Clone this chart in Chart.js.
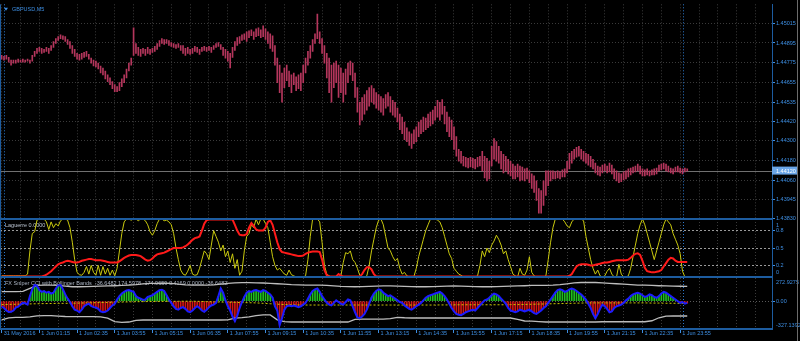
<!DOCTYPE html>
<html>
<head>
<meta charset="utf-8">
<script src="https://cdn.jsdelivr.net/npm/chart.js@4.4.0/dist/chart.umd.min.js"></script>
<style>
  html, body { margin: 0; padding: 0; background: #000; overflow: hidden; }
  #wrap { position: relative; width: 800px; height: 341px; }
  canvas { position: absolute; left: 0; }
  #rim { position: absolute; left: 797px; top: 0; width: 1px; height: 341px; background: #6c6c6c; }
</style>
</head>
<body>
<div id="wrap">
  <canvas id="price" width="800" height="225" style="top:0"></canvas>
  <canvas id="lag" width="800" height="64" style="top:216px"></canvas>
  <canvas id="cci" width="800" height="67" style="top:274px"></canvas>
  <div id="rim"></div>
</div>
<script>
// bar -1 is 31 May 23:55, bar 0 is 1 Jun 00:00 (M5 bars)
const firstBar = -1;
const daySplits = [0, 288];

const timeTickAt = [-1, 15, 31, 47, 63, 79, 95, 111, 127, 143, 159, 175, 191, 207, 223, 239, 255, 271, 287];
const timeTickText = ['31 May 2016', '1 Jun 01:15', '1 Jun 02:35', '1 Jun 03:55', '1 Jun 05:15', '1 Jun 06:35',
  '1 Jun 07:55', '1 Jun 09:15', '1 Jun 10:35', '1 Jun 11:55', '1 Jun 13:15', '1 Jun 14:35', '1 Jun 15:55',
  '1 Jun 17:15', '1 Jun 18:35', '1 Jun 19:55', '1 Jun 21:15', '1 Jun 22:35', '1 Jun 23:55'];

const priceTicks = [1.45015, 1.44895, 1.44775, 1.44655, 1.44535, 1.44420, 1.44300, 1.44180, 1.44060, 1.43945, 1.43830];
const lastPrice = 1.44120;

const high = [
  1.44820,1.44814,1.44820,1.44808,1.44791,1.44791,1.44791,1.44797,1.44791,1.44797,
  1.44791,1.44797,1.44791,1.44820,1.44844,1.44862,1.44868,1.44862,1.44856,1.44868,
  1.44862,1.44880,1.44904,1.44922,1.44934,1.44945,1.44939,1.44934,1.44916,1.44904,
  1.44880,1.44856,1.44832,1.44826,1.44832,1.44838,1.44844,1.44826,1.44803,1.44791,
  1.44785,1.44773,1.44755,1.44743,1.44725,1.44701,1.44683,1.44660,1.44642,1.44630,
  1.44654,1.44677,1.44701,1.44737,1.44773,1.44803,1.44987,1.44892,1.44868,1.44856,
  1.44862,1.44856,1.44868,1.44856,1.44862,1.44874,1.44892,1.44910,1.44922,1.44916,
  1.44916,1.44910,1.44898,1.44892,1.44886,1.44892,1.44880,1.44880,1.44862,1.44868,
  1.44856,1.44862,1.44874,1.44868,1.44856,1.44868,1.44874,1.44868,1.44874,1.44868,
  1.44880,1.44892,1.44898,1.44886,1.44868,1.44856,1.44844,1.44832,1.44868,1.44904,
  1.44928,1.44934,1.44945,1.44951,1.44963,1.44969,1.44975,1.44963,1.44981,1.44987,
  1.44975,1.44999,1.44981,1.44963,1.44951,1.44939,1.44880,1.44803,1.44761,1.44713,
  1.44743,1.44761,1.44725,1.44701,1.44713,1.44689,1.44701,1.44713,1.44761,1.44803,
  1.44844,1.44880,1.44916,1.44951,1.45070,1.44963,1.44922,1.44880,1.44832,1.44803,
  1.44761,1.44773,1.44785,1.44761,1.44743,1.44713,1.44737,1.44773,1.44785,1.44773,
  1.44713,1.44624,1.44535,1.44564,1.44582,1.44606,1.44624,1.44636,1.44618,1.44594,
  1.44582,1.44570,1.44558,1.44582,1.44594,1.44570,1.44546,1.44535,1.44499,1.44463,
  1.44445,1.44415,1.44380,1.44356,1.44344,1.44368,1.44386,1.44415,1.44427,1.44445,
  1.44439,1.44463,1.44475,1.44487,1.44511,1.44546,1.44535,1.44552,1.44511,1.44475,
  1.44445,1.44427,1.44386,1.44326,1.44249,1.44237,1.44207,1.44201,1.44195,1.44201,
  1.44195,1.44189,1.44201,1.44207,1.44237,1.44207,1.44195,1.44177,1.44267,1.44314,
  1.44296,1.44267,1.44237,1.44219,1.44207,1.44189,1.44177,1.44159,1.44148,1.44159,
  1.44148,1.44142,1.44130,1.44136,1.44118,1.44100,1.44088,1.44058,1.44011,1.43999,
  1.44058,1.44118,1.44118,1.44118,1.44118,1.44112,1.44118,1.44112,1.44124,1.44130,
  1.44177,1.44225,1.44237,1.44249,1.44261,1.44267,1.44249,1.44237,1.44225,1.44219,
  1.44207,1.44189,1.44165,1.44148,1.44142,1.44153,1.44159,1.44148,1.44165,1.44153,
  1.44130,1.44118,1.44106,1.44100,1.44112,1.44118,1.44130,1.44136,1.44142,1.44148,
  1.44159,1.44148,1.44130,1.44124,1.44130,1.44118,1.44124,1.44130,1.44136,1.44153,
  1.44159,1.44165,1.44159,1.44148,1.44136,1.44130,1.44142,1.44148,1.44136,1.44130,
  1.44136,1.44130
];
const low = [
  1.44797,1.44791,1.44797,1.44779,1.44761,1.44773,1.44773,1.44779,1.44779,1.44779,
  1.44779,1.44785,1.44773,1.44785,1.44814,1.44832,1.44844,1.44832,1.44838,1.44844,
  1.44832,1.44850,1.44868,1.44892,1.44910,1.44922,1.44916,1.44904,1.44886,1.44862,
  1.44832,1.44814,1.44797,1.44791,1.44797,1.44808,1.44814,1.44797,1.44773,1.44755,
  1.44749,1.44737,1.44713,1.44701,1.44677,1.44660,1.44642,1.44618,1.44600,1.44600,
  1.44606,1.44630,1.44654,1.44683,1.44725,1.44761,1.44820,1.44832,1.44820,1.44814,
  1.44832,1.44820,1.44832,1.44826,1.44838,1.44844,1.44856,1.44874,1.44892,1.44886,
  1.44892,1.44880,1.44874,1.44868,1.44862,1.44868,1.44850,1.44832,1.44820,1.44832,
  1.44826,1.44832,1.44844,1.44838,1.44826,1.44844,1.44850,1.44844,1.44850,1.44838,
  1.44856,1.44868,1.44874,1.44856,1.44820,1.44803,1.44785,1.44743,1.44808,1.44850,
  1.44880,1.44892,1.44910,1.44916,1.44904,1.44928,1.44939,1.44916,1.44934,1.44939,
  1.44928,1.44934,1.44916,1.44892,1.44862,1.44844,1.44761,1.44654,1.44594,1.44535,
  1.44624,1.44666,1.44630,1.44594,1.44642,1.44606,1.44618,1.44606,1.44654,1.44713,
  1.44761,1.44803,1.44844,1.44892,1.44922,1.44892,1.44832,1.44773,1.44683,1.44594,
  1.44535,1.44624,1.44654,1.44564,1.44594,1.44535,1.44582,1.44654,1.44701,1.44666,
  1.44564,1.44475,1.44398,1.44427,1.44463,1.44487,1.44511,1.44535,1.44523,1.44499,
  1.44487,1.44475,1.44457,1.44499,1.44511,1.44475,1.44457,1.44445,1.44415,1.44368,
  1.44344,1.44308,1.44296,1.44273,1.44255,1.44284,1.44296,1.44326,1.44344,1.44356,
  1.44368,1.44380,1.44392,1.44404,1.44427,1.44445,1.44427,1.44463,1.44404,1.44356,
  1.44326,1.44308,1.44249,1.44207,1.44177,1.44165,1.44148,1.44142,1.44136,1.44142,
  1.44136,1.44130,1.44142,1.44148,1.44118,1.44076,1.44058,1.44070,1.44148,1.44189,
  1.44177,1.44165,1.44130,1.44106,1.44118,1.44100,1.44088,1.44070,1.44070,1.44082,
  1.44058,1.44064,1.44058,1.44070,1.44046,1.44011,1.43987,1.43939,1.43862,1.43862,
  1.43909,1.43969,1.44028,1.44058,1.44070,1.44070,1.44076,1.44070,1.44082,1.44082,
  1.44106,1.44130,1.44165,1.44189,1.44201,1.44207,1.44189,1.44177,1.44165,1.44153,
  1.44142,1.44130,1.44106,1.44094,1.44088,1.44106,1.44118,1.44106,1.44112,1.44100,
  1.44070,1.44058,1.44046,1.44052,1.44064,1.44070,1.44082,1.44094,1.44106,1.44112,
  1.44118,1.44100,1.44088,1.44088,1.44094,1.44088,1.44094,1.44094,1.44100,1.44118,
  1.44124,1.44130,1.44118,1.44112,1.44106,1.44100,1.44112,1.44112,1.44106,1.44100,
  1.44112,1.44118
];

// Laguerre: fast (yellow) and slow (red)
const lagFast = [
  0.02,0.02,0.02,0.02,0.02,0.02,0.02,0.02,0.02,0.02,
  0.02,0.05,0.45,0.75,0.78,0.98,1,1,1,0.95,
  0.82,0.95,0.85,0.92,0.88,0.97,1,1,0.98,0.85,
  0.6,0.3,0.08,0.04,0.03,0.08,0.18,0.05,0.2,0.08,
  0.03,0.2,0.03,0.18,0.05,0.15,0.03,0.12,0.02,0.15,
  0.45,0.75,0.95,1,1,0.98,1,1,0.97,1,
  1,0.97,0.9,0.78,0.72,0.8,0.92,1,1,0.97,
  0.98,0.95,0.9,0.75,0.5,0.3,0.12,0.05,0.03,0.1,
  0.2,0.05,0.03,0.04,0.15,0.3,0.45,0.4,0.3,0.55,
  0.8,0.7,0.6,0.45,0.55,0.35,0.45,0.25,0.4,0.15,
  0.3,0.03,0.1,0.45,0.7,0.75,0.9,0.85,1,0.9,
  1,1,0.92,0.85,0.6,0.35,0.2,0.12,0.15,0.1,
  0.05,0.03,0.12,0.04,0.02,0,0,0,0,0.02,
  0.3,0.7,1,1,1,0.95,0.6,0.2,0.05,0.02,
  0,0,0.01,0,0.02,0.25,0.42,0.4,0.45,0.3,
  0.25,0.15,0.03,0,0,0.02,0.2,0.45,0.65,0.85,
  0.98,1,0.9,0.7,0.5,0.45,0.35,0.28,0.32,0.15,
  0.05,0.08,0.02,0,0,0.01,0.15,0.35,0.5,0.65,
  0.8,0.9,1,1,1,0.98,0.95,0.85,0.7,0.55,
  0.4,0.32,0.15,0.1,0.05,0.03,0,0,0.01,0,
  0,0,0.02,0.2,0.45,0.35,0.5,0.42,0.55,0.62,
  0.72,0.65,0.55,0.4,0.45,0.3,0.18,0.05,0.02,0,
  0.15,0.05,0.03,0.12,0.35,0.08,0.02,0,0,0,
  0,0.02,0.3,0.6,0.85,1,1,1,1,0.95,
  0.88,0.85,0.95,1,1,1,1,0.97,0.7,0.5,
  0.3,0.15,0.05,0.12,0.02,0,0.02,0.1,0.15,0.05,
  0,0,0.22,0.05,0,0,0.02,0.15,0.35,0.55,
  0.75,0.9,1,0.9,0.75,0.6,0.45,0.3,0.45,0.6,
  0.75,0.9,1,0.95,0.9,0.75,0.65,0.55,0.4,0.1,
  0,0
];
const lagSlow = [
  0.01,0.01,0.01,0.01,0.01,0.01,0.01,0.01,0.01,0.01,
  0.01,0.01,0.01,0.01,0.01,0.01,0.01,0.01,0.02,0.04,
  0.07,0.1,0.14,0.18,0.22,0.24,0.25,0.27,0.28,0.27,
  0.26,0.25,0.25,0.26,0.28,0.29,0.3,0.31,0.31,0.3,
  0.29,0.29,0.29,0.28,0.27,0.26,0.25,0.25,0.25,0.25,
  0.27,0.3,0.33,0.35,0.37,0.38,0.38,0.38,0.37,0.36,
  0.33,0.3,0.28,0.29,0.32,0.36,0.39,0.4,0.41,0.42,
  0.44,0.46,0.48,0.5,0.5,0.5,0.5,0.51,0.53,0.56,
  0.6,0.64,0.67,0.68,0.7,0.8,0.92,0.98,0.99,0.99,
  0.99,0.99,0.99,0.99,0.99,0.99,0.99,0.99,0.99,0.9,
  0.8,0.73,0.72,0.72,0.74,0.85,0.93,0.88,0.82,0.8,
  0.8,0.8,0.85,0.95,0.98,0.9,0.75,0.6,0.48,0.43,
  0.42,0.41,0.4,0.39,0.38,0.37,0.36,0.36,0.37,0.4,
  0.42,0.43,0.44,0.44,0.44,0.43,0.3,0.12,0.03,0.01,
  0.01,0.01,0.01,0.05,0.02,0.01,0.01,0.01,0.01,0.01,
  0.01,0.01,0.01,0.05,0.12,0.17,0.17,0.13,0.05,0.01,
  0.01,0.01,0.01,0.01,0.01,0.01,0.01,0.01,0.01,0.01,
  0.01,0.01,0.01,0.01,0.01,0.01,0.01,0.01,0.01,0.01,
  0.01,0.01,0.01,0.01,0.01,0.01,0.01,0.01,0.01,0.01,
  0.01,0.01,0.01,0.01,0.01,0.01,0.01,0.01,0.01,0.01,
  0.01,0.01,0.01,0.01,0.01,0.01,0.01,0.01,0.01,0.01,
  0.01,0.01,0.01,0.01,0.01,0.01,0.01,0.01,0.01,0.01,
  0.01,0.01,0.01,0.01,0.01,0.01,0.01,0.01,0.01,0.01,
  0.01,0.01,0.01,0.01,0.01,0.01,0.01,0.01,0.01,0.01,
  0.01,0.02,0.05,0.12,0.18,0.21,0.22,0.22,0.22,0.21,
  0.2,0.2,0.21,0.22,0.23,0.24,0.25,0.25,0.26,0.27,
  0.28,0.29,0.29,0.29,0.29,0.29,0.3,0.33,0.37,0.4,
  0.41,0.38,0.28,0.16,0.1,0.09,0.08,0.08,0.09,0.1,
  0.12,0.18,0.24,0.3,0.33,0.32,0.28,0.26,0.26,0.26,
  0.26,0.26
];

// FX Sniper CCI with Bollinger Bands
const cci = [
  -65,-80,-110,-127,-125,-110,-75,-65,-40,-20,
  -25,-40,60,140,190,180,130,110,120,100,
  110,90,100,150,185,190,140,80,30,-10,
  -60,-100,-110,-130,-100,-60,-40,-30,-55,-70,
  -75,-90,-120,-130,-125,-110,-80,-50,-30,20,
  60,90,110,125,130,120,110,60,40,30,
  15,20,50,60,70,90,110,130,135,120,
  70,20,-20,-60,-90,-100,-80,-70,-90,-120,
  -130,-110,-80,-60,-80,-110,-125,-100,-70,-50,
  -40,-20,60,150,100,10,-60,-110,-180,-235,
  -170,-80,-10,50,100,120,110,125,130,120,
  110,130,120,100,80,40,-60,-110,-280,-200,
  -100,-60,-50,-60,-50,-60,-70,-60,-40,-20,
  30,80,120,140,150,110,60,20,-20,-40,
  -50,-20,10,-10,-30,-40,-10,20,10,-60,
  -130,-190,-200,-180,-150,-100,-30,40,90,120,
  140,130,100,80,60,70,50,30,10,-10,
  -20,-50,-70,-90,-100,-80,-60,-40,-20,10,
  40,60,70,80,90,100,110,90,60,20,
  -30,-80,-120,-150,-160,-165,-150,-130,-120,-110,
  -100,-110,-80,-50,-20,10,20,40,70,90,
  80,60,30,0,-30,-80,-110,-120,-130,-120,
  -100,-110,-120,-110,-100,-120,-140,-150,-130,-110,
  -80,-60,-20,20,60,100,130,140,130,110,
  120,140,150,140,120,100,80,50,20,-30,
  -80,-150,-200,-150,-90,-40,-60,-90,-130,-120,
  -80,-60,-50,-40,-20,10,30,60,80,90,
  100,90,70,50,60,80,70,50,40,60,
  90,110,100,80,60,40,20,0,-20,-10,
  -30,-20
];
// bands are read every 3 bars
const bandStep = 3;
const bbUpper = [
  112,112,112,115,150,185,190,190,185,178,
  170,170,172,175,178,180,182,185,190,195,
  205,210,210,212,210,200,192,190,188,190,
  192,200,210,215,218,218,216,214,210,205,
  200,195,192,190,190,188,185,180,175,172,
  170,172,175,178,180,180,178,175,172,170,
  170,172,175,178,180,178,175,172,170,170,
  172,175,178,180,182,185,185,185,188,195,
  205,215,220,222,220,215,210,205,200,195,
  190,188,185,182,180,178,176,175
];
const bbMid = [
  -40,-38,-36,-34,-32,-30,-28,-27,-26,-25,
  -24,-22,-20,-18,-16,-14,-12,-10,-8,-6,
  -5,-4,-3,-2,-2,-1,0,0,-2,-5,
  -8,-10,-12,-14,-16,-18,-20,-25,-30,-35,
  -40,-42,-44,-45,-45,-45,-45,-45,-45,-45,
  -45,-45,-45,-45,-45,-45,-45,-45,-45,-45,
  -45,-45,-44,-44,-43,-42,-42,-42,-42,-42,
  -42,-42,-40,-40,-38,-36,-34,-32,-30,-28,
  -26,-24,-22,-20,-20,-20,-20,-20,-20,-20,
  -20,-20,-22,-22,-24,-24,-25,-25
];
const bbLower = [
  -221,-195,-190,-190,-185,-172,-170,-170,-175,-180,
  -182,-182,-182,-182,-185,-200,-240,-250,-245,-225,
  -221,-221,-221,-221,-221,-221,-221,-221,-221,-221,
  -221,-221,-220,-200,-194,-185,-170,-162,-162,-220,
  -240,-245,-245,-245,-245,-245,-245,-245,-245,-245,
  -215,-210,-210,-210,-210,-205,-190,-195,-198,-198,
  -198,-198,-198,-198,-198,-198,-198,-198,-198,-198,
  -198,-198,-198,-215,-233,-235,-240,-245,-245,-245,
  -245,-245,-245,-245,-245,-242,-242,-242,-242,-242,
  -242,-242,-230,-195,-175,-174,-174,-174
];
const cciMax = 272.9275, cciMin = -327.1392;
const lagLevels = [0.2, 0.5, 0.8];

const AXIS_TXT = '#3d8ee2';
const FRAME = '#1d5c9f';
const GRID = '#3a3a3a';
const FONT = '5.5px "Liberation Sans"';
Chart.defaults.font.family = 'Liberation Sans';
Chart.defaults.font.size = 5.5;

const xMin = -1.7, xMax = 325.98;
const gridAt = [];
for (let t = -1; t < xMax; t += 8) gridAt.push(t);
const timeText = {};
timeTickAt.forEach((t, k) => { timeText[t] = timeTickText[k]; });

const byBar = values => values.map((v, k) => ({ x: firstBar + k, y: v }));
const byBand = values => values.map((v, k) => ({ x: firstBar + k * bandStep, y: v }));

function xAxis(withLabels) {
  return {
    type: 'linear', min: xMin, max: xMax, offset: false,
    afterBuildTicks: a => { a.ticks = gridAt.map(v => ({ value: v })); },
    afterFit: a => { a.height = withLabels ? 12 : 0; },
    grid: {
      offset: false, color: GRID, drawTicks: withLabels, tickLength: 4, tickBorderDash: [],
      tickColor: c => (c.tick && timeText[c.tick.value]) ? AXIS_TXT : 'rgba(0,0,0,0)'
    },
    border: { display: false, dash: [1, 2] },
    ticks: {
      display: withLabels, autoSkip: false, maxRotation: 0, minRotation: 0, align: 'start',
      padding: -3, labelOffset: 2, color: AXIS_TXT, callback: v => timeText[v] || ''
    }
  };
}

function yAxis(min, max, ticks, gridColor, dash, showLabels) {
  return {
    position: 'right', min, max, beginAtZero: false,
    afterBuildTicks: a => { a.ticks = ticks.map(v => ({ value: v })); },
    afterFit: a => { a.width = 28; },
    grid: { color: gridColor, tickColor: AXIS_TXT, tickLength: 3, tickBorderDash: [] },
    border: { color: FRAME, width: 1, dash },
    ticks: { display: showLabels, color: AXIS_TXT, padding: 1, callback: v => v.toFixed(5) }
  };
}

// MT4 window furniture: day separators, titles, panel rules, clamped axis texts, price tag
const mt4 = {
  id: 'mt4',
  beforeDatasetsDraw(chart, args, o) {
    const { ctx, chartArea: a, scales: { x, y } } = chart;
    ctx.save();
    ctx.lineWidth = 1;
    ctx.strokeStyle = '#2b78cc';
    ctx.setLineDash([1, 2]);
    daySplits.forEach(d => {
      const px = Math.round(x.getPixelForValue(d)) + 0.5;
      ctx.beginPath(); ctx.moveTo(px, a.top); ctx.lineTo(px, a.bottom); ctx.stroke();
    });
    ctx.setLineDash([]);
    if (o.last != null) {
      const py = Math.round(y.getPixelForValue(o.last)) + 0.5;
      ctx.strokeStyle = '#707070';
      ctx.beginPath(); ctx.moveTo(a.left, py); ctx.lineTo(a.right, py); ctx.stroke();
    }
    ctx.font = FONT;
    ctx.textBaseline = 'middle';
    ctx.fillStyle = o.titleColor;
    ctx.fillText(o.title, o.titleX, a.top + o.titleDy);
    if (o.marker) {
      ctx.beginPath();
      ctx.moveTo(4, a.top + 3.5); ctx.lineTo(8, a.top + 3.5); ctx.lineTo(6, a.top + 6.5);
      ctx.closePath(); ctx.fill();
    }
    ctx.restore();
  },
  afterDraw(chart, args, o) {
    const { ctx, chartArea: a, scales: { y } } = chart;
    ctx.save();
    ctx.strokeStyle = FRAME;
    ctx.lineWidth = 2;
    (o.rules || []).forEach(side => {
      const py = side === 'top' ? a.top : a.bottom;
      ctx.beginPath(); ctx.moveTo(0, py); ctx.lineTo(a.right, py); ctx.stroke();
    });
    ctx.lineWidth = 1;
    ctx.beginPath(); ctx.moveTo(0.5, a.top); ctx.lineTo(0.5, a.bottom); ctx.stroke();
    ctx.font = FONT;
    ctx.textBaseline = 'middle';
    ctx.fillStyle = AXIS_TXT;
    (o.labels || []).forEach(([v, t, dy]) => ctx.fillText(t, a.right + 4, y.getPixelForValue(v) + dy));
    if (o.last != null) {
      const py = y.getPixelForValue(o.last);
      ctx.fillStyle = '#6aa6e8';
      ctx.fillRect(a.right, py - 4, 25, 8);
      ctx.fillStyle = '#ffffff';
      ctx.fillText(o.last.toFixed(5), a.right + 4, py + 0.5);
    }
    ctx.restore();
  }
};

const base = { responsive: false, animation: false, events: [] };

new Chart(document.getElementById('price'), {
  type: 'bar',
  data: {
    datasets: [{
      data: high.map((h, k) => ({ x: firstBar + k, y: [low[k], h] })),
      backgroundColor: '#b4365c', borderWidth: 0, barThickness: 1, grouped: false
    }]
  },
  options: {
    ...base,
    layout: { padding: { left: 0, right: 0, top: 0, bottom: 6 } },
    scales: { x: xAxis(false), y: yAxis(1.43826, 1.45130, priceTicks, GRID, [1, 2], true) },
    plugins: {
      legend: { display: false }, tooltip: { enabled: false },
      mt4: { title: 'GBPUSD,M5', titleX: 12, titleDy: 5, titleColor: '#3d8ee2', marker: true, last: lastPrice }
    }
  },
  plugins: [mt4]
});

new Chart(document.getElementById('lag'), {
  type: 'line',
  data: {
    datasets: [
      { data: byBar(lagSlow), borderColor: '#ff1a1a', borderWidth: 2, pointRadius: 0, clip: 4, order: 0 },
      { data: byBar(lagFast), borderColor: '#c9c90e', borderWidth: 1, pointRadius: 0, clip: 4, order: 1 }
    ]
  },
  options: {
    ...base,
    layout: { padding: { left: 0, right: 0, top: 3, bottom: 3 } },
    scales: { x: xAxis(false), y: yAxis(0, 1, lagLevels, '#9a9a9a', [2, 2], false) },
    plugins: {
      legend: { display: false }, tooltip: { enabled: false },
      mt4: {
        title: 'Laguerre 0.0000', titleX: 5, titleDy: 6, titleColor: '#b9c3d0', rules: ['top', 'bottom'],
        labels: [[1, '1', 6], [0.8, '0.8', 0], [0.5, '0.5', 0], [0.2, '0.2', 0], [0, '0', -5]]
      }
    }
  },
  plugins: [mt4]
});

new Chart(document.getElementById('cci'), {
  type: 'bar',
  data: {
    datasets: [
      { type: 'line', data: byBar(cci), borderColor: '#1c1cff', borderWidth: 2, pointRadius: 0, order: 0 },
      { type: 'line', data: byBand(bbUpper), borderColor: '#bdbdbd', borderWidth: 1.3, pointRadius: 0, order: 1 },
      { type: 'line', data: byBand(bbLower), borderColor: '#bdbdbd', borderWidth: 1.3, pointRadius: 0, order: 1 },
      { type: 'line', data: byBand(bbMid), borderColor: '#c8c800', borderWidth: 1, borderDash: [2, 2], pointRadius: 0, order: 1 },
      {
        data: byBar(cci), barThickness: 1, borderWidth: 0, grouped: false, order: 2,
        backgroundColor: cci.map(v => v >= 0 ? '#1fbf1f' : '#d01515')
      }
    ]
  },
  options: {
    ...base,
    layout: { padding: { left: 0, right: 0, top: 4, bottom: 0 } },
    scales: { x: xAxis(true), y: yAxis(cciMin, cciMax, [0], '#5a5a5a', [1, 2], false) },
    plugins: {
      legend: { display: false }, tooltip: { enabled: false },
      mt4: {
        title: 'FX Sniper CCI with Bollinger Bands  -36.6482 174.5978 -174.9659 0.4169 0.0000 -36.6482',
        titleX: 5, titleDy: 5, titleColor: '#aab3c2', rules: ['bottom'],
        labels: [[cciMax, '272.9275', 4], [0, '0.00', 0], [cciMin, '-327.1392', -4]]
      }
    }
  },
  plugins: [mt4]
});
</script>
</body>
</html>
